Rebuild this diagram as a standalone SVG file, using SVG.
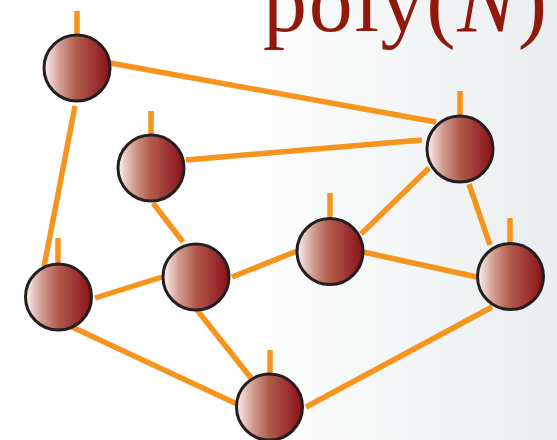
<svg xmlns="http://www.w3.org/2000/svg" width="557" height="440" viewBox="0 0 557 440">
  <defs>
    <linearGradient id="bg" x1="0" y1="0" x2="557" y2="0" gradientUnits="userSpaceOnUse">
      <stop offset="0.42" stop-color="#ffffff"/>
      <stop offset="1" stop-color="#eaedef"/>
    </linearGradient>
    <linearGradient id="ball" x1="0" y1="0" x2="1" y2="0">
      <stop offset="0" stop-color="#fbf3f1"/>
      <stop offset="0.25" stop-color="#d29b8e"/>
      <stop offset="0.5" stop-color="#b05a4a"/>
      <stop offset="0.78" stop-color="#9b3130"/>
      <stop offset="1" stop-color="#8a1016"/>
    </linearGradient>
    <style>
      .edge { stroke: #f7941d; stroke-width: 5.5; fill: none; }
      .node circle { fill: url(#ball); stroke: #231f20; stroke-width: 3; }
      .node line { stroke: #f7941d; stroke-width: 5.5; }
      .title { font-family: "Liberation Serif", "DejaVu Serif", serif; font-size: 88px; fill: #8f1a0c; }
    </style>
  </defs>
  <rect x="0" y="0" width="557" height="440" fill="url(#bg)"/>
  <text class="title" x="263" y="31" textLength="284" lengthAdjust="spacing">poly(<tspan font-style="italic">N</tspan>)</text>
  <g id="connectors">
    <line class="edge" x1="110" y1="63" x2="436" y2="122"/>
    <line class="edge" x1="75" y1="106" x2="44" y2="267"/>
    <line class="edge" x1="186" y1="160" x2="422" y2="140"/>
    <line class="edge" x1="153" y1="203" x2="183" y2="242"/>
    <line class="edge" x1="95" y1="298" x2="162" y2="277"/>
    <line class="edge" x1="232" y1="277" x2="297" y2="251"/>
    <line class="edge" x1="361" y1="234" x2="429" y2="168"/>
    <line class="edge" x1="363" y1="252" x2="477" y2="277"/>
    <line class="edge" x1="469" y1="184" x2="490" y2="245"/>
    <line class="edge" x1="197" y1="310" x2="251" y2="378"/>
    <line class="edge" x1="72" y1="327" x2="237" y2="404"/>
    <line class="edge" x1="306" y1="407" x2="492" y2="307"/>
  </g>
  <g id="nodeA" class="node"><line x1="77" y1="11" x2="77" y2="34"/><circle cx="77" cy="68" r="33"/></g>
  <g id="nodeB" class="node"><line x1="151" y1="111" x2="151" y2="134"/><circle cx="151" cy="168" r="33"/></g>
  <g id="nodeC" class="node"><line x1="460" y1="91" x2="460" y2="115"/><circle cx="460" cy="149" r="33"/></g>
  <g id="nodeD" class="node"><line x1="58" y1="238" x2="58" y2="263"/><circle cx="58.5" cy="297" r="33"/></g>
  <g id="nodeE" class="node"><circle cx="196" cy="277" r="33"/></g>
  <g id="nodeF" class="node"><line x1="330" y1="193" x2="330" y2="218"/><circle cx="330" cy="251.5" r="33"/></g>
  <g id="nodeG" class="node"><line x1="510" y1="218" x2="510" y2="243"/><circle cx="510.5" cy="276.5" r="33"/></g>
  <g id="nodeH" class="node"><line x1="270" y1="350" x2="270" y2="374"/><circle cx="269.5" cy="407" r="33"/></g>
</svg>
